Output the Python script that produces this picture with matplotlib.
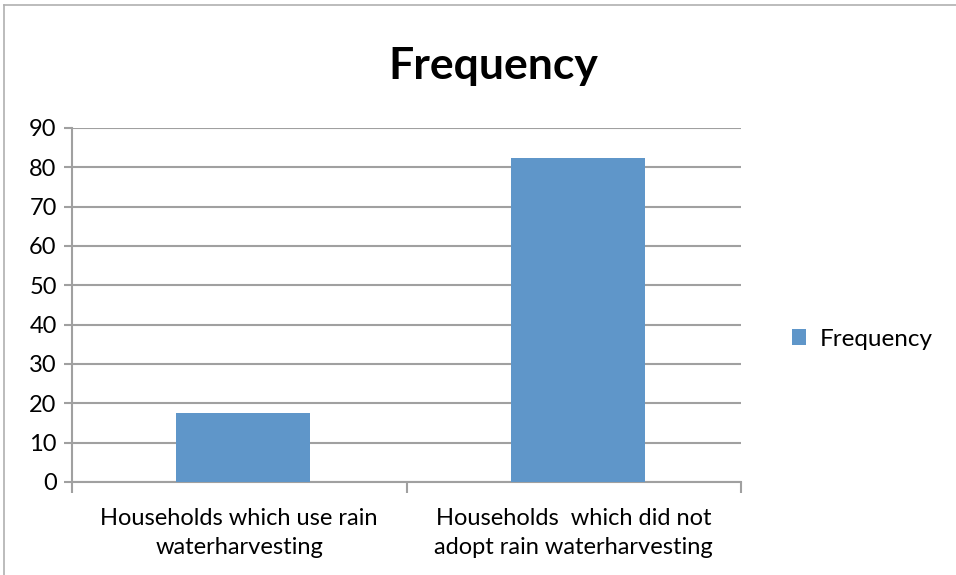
import matplotlib
matplotlib.use("Agg")
import matplotlib.pyplot as plt
from matplotlib.lines import Line2D
from matplotlib.patches import Patch

categories = ["Households which use rain\nwaterharvesting",
              "Households  which did not\nadopt rain waterharvesting"]
values = [17.5, 82.5]
series_name = "Frequency"
yticks = [0, 10, 20, 30, 40, 50, 60, 70, 80, 90]

plt.rcParams['font.family'] = ['Lato', 'DejaVu Sans']

W, H = 956, 575
fig = plt.figure(figsize=(W / 100, H / 100), dpi=100)

# axes placement in pixels
left, right, top, bottom = 72, 741, 128, 482
ax = fig.add_axes([left / W, 1 - bottom / H, (right - left) / W, (bottom - top) / H])

bar_color = "#5f96c9"
grid_color = "#a0a0a0"

x = list(range(len(categories)))
ax.bar([i + 0.012 for i in x], values, width=0.4, color=bar_color, zorder=3)

ax.set_xlim(-0.5, len(categories) - 0.5)
ax.set_ylim(0, 90)
ax.set_yticks(yticks)
ax.set_yticklabels([str(v) for v in yticks], fontsize=17)
ax.yaxis.grid(True, color=grid_color, linewidth=1.5, zorder=0)
ax.set_axisbelow(True)

# category labels centred, tick marks at category boundaries
ax.set_xticks(x)
ax.set_xticklabels(categories, fontsize=17, linespacing=1.45)
ax.tick_params(axis='x', length=0, pad=19)
ax.set_xticks([-0.5, 0.5, 1.5], minor=True)
ax.tick_params(axis='x', which='minor', length=8, width=1.5, color=grid_color)
ax.tick_params(axis='y', length=6, width=1.5, color=grid_color, pad=5)

for side in ['top', 'right']:
    ax.spines[side].set_visible(False)
for side in ['left', 'bottom']:
    ax.spines[side].set_color(grid_color)
    ax.spines[side].set_linewidth(1.5)

fig.text(493 / W, 1 - 66 / H, "Frequency", fontsize=32, fontweight='bold',
         ha='center', va='center')

handles = [Patch(facecolor=bar_color, edgecolor='none', label=series_name)]
fig.legend(handles=handles, loc='center left', bbox_to_anchor=(770 / W, 1 - 339 / H),
           frameon=False, fontsize=17.5, handlelength=0.6, handleheight=0.6,
           handletextpad=0.55)

# chart area frame (left and top edges)
fig.add_artist(Line2D([4 / W, 4 / W], [0, 1 - 5 / H], transform=fig.transFigure,
                      color="#b0b0b0", linewidth=1.2))
fig.add_artist(Line2D([4 / W, 1], [1 - 5 / H, 1 - 5 / H], transform=fig.transFigure,
                      color="#b0b0b0", linewidth=1.2))

fig.savefig("out.png", dpi=100)
